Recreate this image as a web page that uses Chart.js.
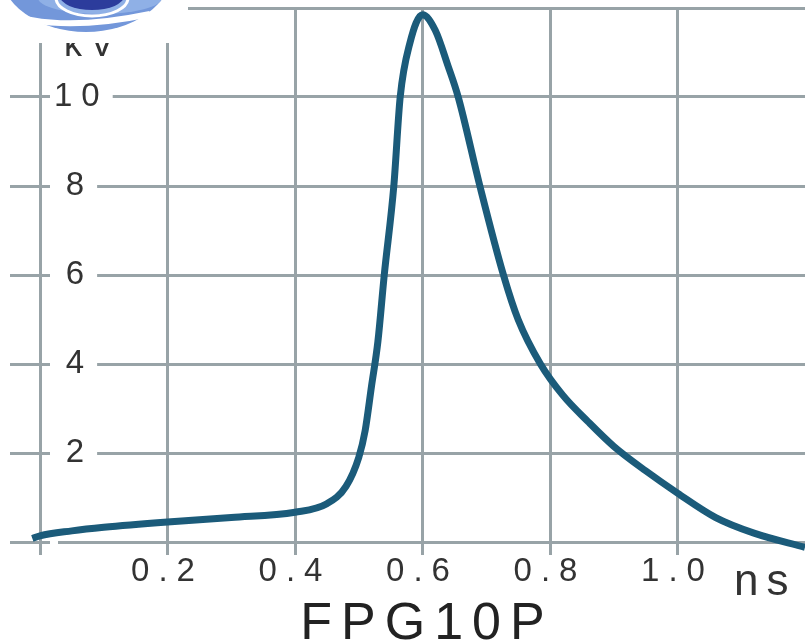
<!DOCTYPE html>
<html>
<head>
<meta charset="utf-8">
<title>FPG10P</title>
<script src="https://cdn.jsdelivr.net/npm/chart.js"></script>
<style>
    html, body { margin: 0; padding: 0; background: #fff; }
    .chart-container { position: relative; width: 805px; height: 642px; }
</style>
</head>
<body>
<div class="chart-container">
    <canvas id="pulse"></canvas>
</div>
<script>
    // pulse shape, time in ns, amplitude in kV
    const timeNs = [-0.012, 0.0, 0.05, 0.1, 0.2, 0.3, 0.4, 0.45, 0.48, 0.5, 0.51, 0.52, 0.53, 0.54, 0.555, 0.565, 0.58, 0.6,
                    0.62, 0.64, 0.656, 0.69, 0.727, 0.75, 0.785, 0.82, 0.86, 0.9, 0.95, 1.0, 1.06, 1.12, 1.2];
    const voltageKV = [0.08, 0.14, 0.25, 0.33, 0.45, 0.55, 0.67, 0.86, 1.25, 1.9, 2.5, 3.5, 4.5, 6.0, 8.0, 10.0, 11.2, 11.85,
                       11.5, 10.7, 10.0, 8.0, 6.0, 5.0, 4.0, 3.3, 2.7, 2.15, 1.6, 1.1, 0.55, 0.2, -0.12];
    const xTickLabels = ['0.2', '0.4', '0.6', '0.8', '1.0'];
    const yTickLabels = [2, 4, 6, 8, 10];
    const modelName = 'FPG10P';
    const xUnit = 'ns';
    const yUnit = 'kV';

    const gridGray = '#98a3a7';
    const textGray = '#333';
    const fam = 'Liberation Sans, Arial, sans-serif';
    const tickFont = {family: fam, size: 33, lineHeight: 1};

    const spacing = {
        id: 'spacing',
        beforeUpdate(chart) { chart.ctx.letterSpacing = '9px'; },
        beforeDraw(chart) { chart.ctx.letterSpacing = '9px'; }
    };

    // units, name under the axis and the badge in the corner
    const extras = {
        id: 'extras',
        afterDraw(chart) {
            const c = chart.ctx;
            c.save();
            c.fillStyle = textGray;
            c.textBaseline = 'alphabetic';
            c.letterSpacing = '8px';
            c.font = '44px ' + fam;
            c.fillText(xUnit, 734, 595);
            c.font = '36px ' + fam;
            c.fillText(yUnit, 64, 56);

            c.letterSpacing = '9px';
            c.fillStyle = '#222';
            c.font = '52px ' + fam;
            c.textAlign = 'center';
            c.fillText(modelName, 427, 639);

            c.letterSpacing = '0px';
            c.fillStyle = '#fff';
            c.fillRect(0, 0, 188, 43);

            c.fillStyle = '#7397da';
            c.beginPath();
            c.ellipse(86, -30, 86, 62, 0, 0, Math.PI * 2);
            c.fill();
            c.strokeStyle = '#fff';
            c.lineWidth = 6;
            c.beginPath();
            c.moveTo(0, 11);
            c.quadraticCurveTo(55, 34, 150, 14);
            c.stroke();
            c.fillStyle = '#8fb0e6';
            c.beginPath();
            c.ellipse(100, -2, 62, 16, 0, 0, Math.PI * 2);
            c.fill();
            c.strokeStyle = '#fff';
            c.lineWidth = 3;
            c.beginPath();
            c.ellipse(92, -2, 36, 18, 0, 0, Math.PI);
            c.stroke();
            c.fillStyle = '#2c3c9c';
            c.beginPath();
            c.ellipse(92, -4, 32, 14, 0, 0, Math.PI * 2);
            c.fill();
            c.restore();
        }
    };

    new Chart(document.getElementById('pulse'), {
        type: 'line',
        data: {
            datasets: [{
                data: timeNs.map((t, i) => ({x: t, y: voltageKV[i]})),
                borderColor: '#1b5b7a',
                borderWidth: 7,
                pointRadius: 0,
                cubicInterpolationMode: 'monotone',
                clip: false,
                fill: false
            }]
        },
        options: {
            responsive: true,
            maintainAspectRatio: false,
            animation: false,
            layout: {padding: {left: 10, top: 8, right: 0, bottom: 54}},
            plugins: {
                legend: {display: false},
                tooltip: {enabled: false}
            },
            scales: {
                x: {
                    type: 'linear',
                    min: 0,
                    max: 1.2,
                    grid: {
                        color: ctx => (ctx.tick && ctx.tick.value > 1.1) ? 'rgba(0,0,0,0)' : gridGray,
                        lineWidth: 3,
                        tickLength: 13
                    },
                    border: {display: true, color: gridGray, width: 3},
                    ticks: {
                        stepSize: 0.2,
                        maxRotation: 0,
                        autoSkip: false,
                        padding: 0,
                        color: textGray,
                        font: tickFont,
                        callback: v => {
                            const s = Number(v).toFixed(1);
                            return xTickLabels.includes(s) ? s : '';
                        }
                    },
                    afterFit: s => { s.paddingLeft = 0; s.paddingRight = 0; }
                },
                y: {
                    min: 0,
                    max: 12,
                    grid: {color: gridGray, lineWidth: 3, tickLength: 30},
                    border: {display: true, color: gridGray, width: 3},
                    ticks: {
                        stepSize: 2,
                        mirror: true,
                        padding: 14,
                        color: textGray,
                        font: tickFont,
                        showLabelBackdrop: true,
                        backdropColor: '#fff',
                        backdropPadding: {x: 4, y: 2},
                        callback: v => yTickLabels.includes(v) ? (v < 10 ? '\u200A' + v : String(v)) : ''
                    },
                    afterFit: s => { s.width = 30; s.paddingTop = 0; s.paddingBottom = 0; }
                }
            }
        },
        plugins: [spacing, extras]
    });
</script>
</body>
</html>
